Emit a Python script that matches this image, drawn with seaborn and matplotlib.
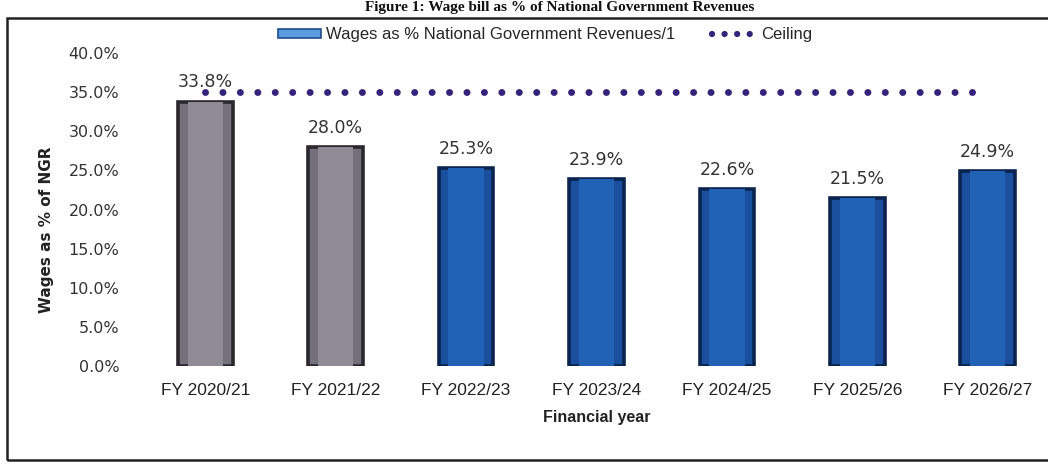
import matplotlib
matplotlib.use("Agg")
import matplotlib.pyplot as plt
import seaborn as sns
import pandas as pd
import numpy as np
from matplotlib.patches import Patch, Rectangle
from matplotlib.lines import Line2D

# Data
years = ["FY 2020/21", "FY 2021/22", "FY 2022/23", "FY 2023/24",
         "FY 2024/25", "FY 2025/26", "FY 2026/27"]
wages_pct = [33.8, 28.0, 25.3, 23.9, 22.6, 21.5, 24.9]
ceiling_pct = [35.0, 35.0, 35.0, 35.0, 35.0, 35.0, 35.0]
actual_flags = ["actual", "actual", "projected", "projected",
                "projected", "projected", "projected"]

df = pd.DataFrame({"year": years, "wages": wages_pct,
                   "ceiling": ceiling_pct, "kind": actual_flags})

sns.set_theme(style="white")
plt.rcParams["font.family"] = ["DejaVu Sans"]

fig = plt.figure(figsize=(10.48, 4.65), dpi=100)
ax = fig.add_axes([140 / 1048, 1 - 366 / 465, 913 / 1048, 313 / 465])

face = {"actual": "#75717c", "projected": "#1a4f9e"}
edge = {"actual": "#2a282e", "projected": "#0b244f"}

sns.barplot(data=df, x="year", y="wages", hue="kind", palette=face,
            dodge=False, width=0.42, legend=False, ax=ax, saturation=1)
for patch, k in zip(ax.patches, df["kind"]):
    patch.set_edgecolor(edge[k])
    patch.set_linewidth(2.6)

# inner face of the bevelled bars
sns.barplot(data=df, x="year", y="wages", hue="kind",
            palette={"actual": "#8f8b96", "projected": "#2262b6"},
            dodge=False, width=0.27, legend=False, ax=ax, saturation=1)
for patch in ax.patches[len(df):]:
    patch.set_linewidth(0)

# ceiling line
ax.plot(np.arange(len(years)), df["ceiling"], linestyle=(0, (0.01, 2.5)),
        color="#33237a", linewidth=5, dash_capstyle="round", zorder=5)

# value labels
for i, v in enumerate(wages_pct):
    ax.text(i, v + 1.3, f"{v:.1f}%", ha="center", va="bottom",
            fontsize=12.5, color="#333333", zorder=6)

ax.set_ylim(0, 40)
ax.set_xlim(-0.5, len(years) - 0.5)
ax.set_yticks(np.arange(0, 40.1, 5))
ax.set_yticklabels([f"{t:.1f}%" for t in np.arange(0, 40.1, 5)],
                   fontsize=11.5, color="#333333")
ax.tick_params(axis="y", pad=15, length=0)
ax.tick_params(axis="x", pad=12, length=0)
for lab in ax.get_xticklabels():
    lab.set_fontfamily("Liberation Sans")
    lab.set_fontsize(12.5)
    lab.set_color("#222222")
ax.set_xlabel("Financial year", fontsize=11.5, fontweight="bold",
              fontfamily="Liberation Sans", labelpad=9, color="#222222")
ax.set_ylabel("Wages as % of NGR", fontsize=11, fontweight="bold",
              color="#222222")
ax.yaxis.set_label_coords(-86 / 913, 0.435)
for s in ax.spines.values():
    s.set_visible(False)
ax.set_facecolor("none")

# legend
handles = [Patch(facecolor="#5b9be0", edgecolor="#1f4f8f", linewidth=1.2),
           Line2D([0], [0], linestyle=(0, (0.01, 2.0)), color="#33237a",
                  linewidth=4.5, dash_capstyle="round")]
fig.legend(handles, ["Wages as % National Government Revenues/1", "Ceiling"],
           loc="center", bbox_to_anchor=(545 / 1048, 1 - 35 / 465), ncol=2,
           frameon=False, handlelength=2.6, handleheight=0.5,
           handletextpad=0.3, columnspacing=2.2,
           prop={"family": "Liberation Sans", "size": 12})

# chart frame
fig.add_artist(Rectangle((7 / 1048, 1 - 460 / 465), 1.05, 442 / 465,
                         transform=fig.transFigure, fill=False,
                         edgecolor="#222222", linewidth=1.8))

# caption above the frame
fig.text(560 / 1048, 1 - 1 / 465,
         "Figure 1: Wage bill as % of National Government Revenues",
         ha="center", va="top", fontsize=11, fontweight="bold",
         fontfamily="Liberation Serif", color="#111111")

fig.savefig("out.png", dpi=100)
